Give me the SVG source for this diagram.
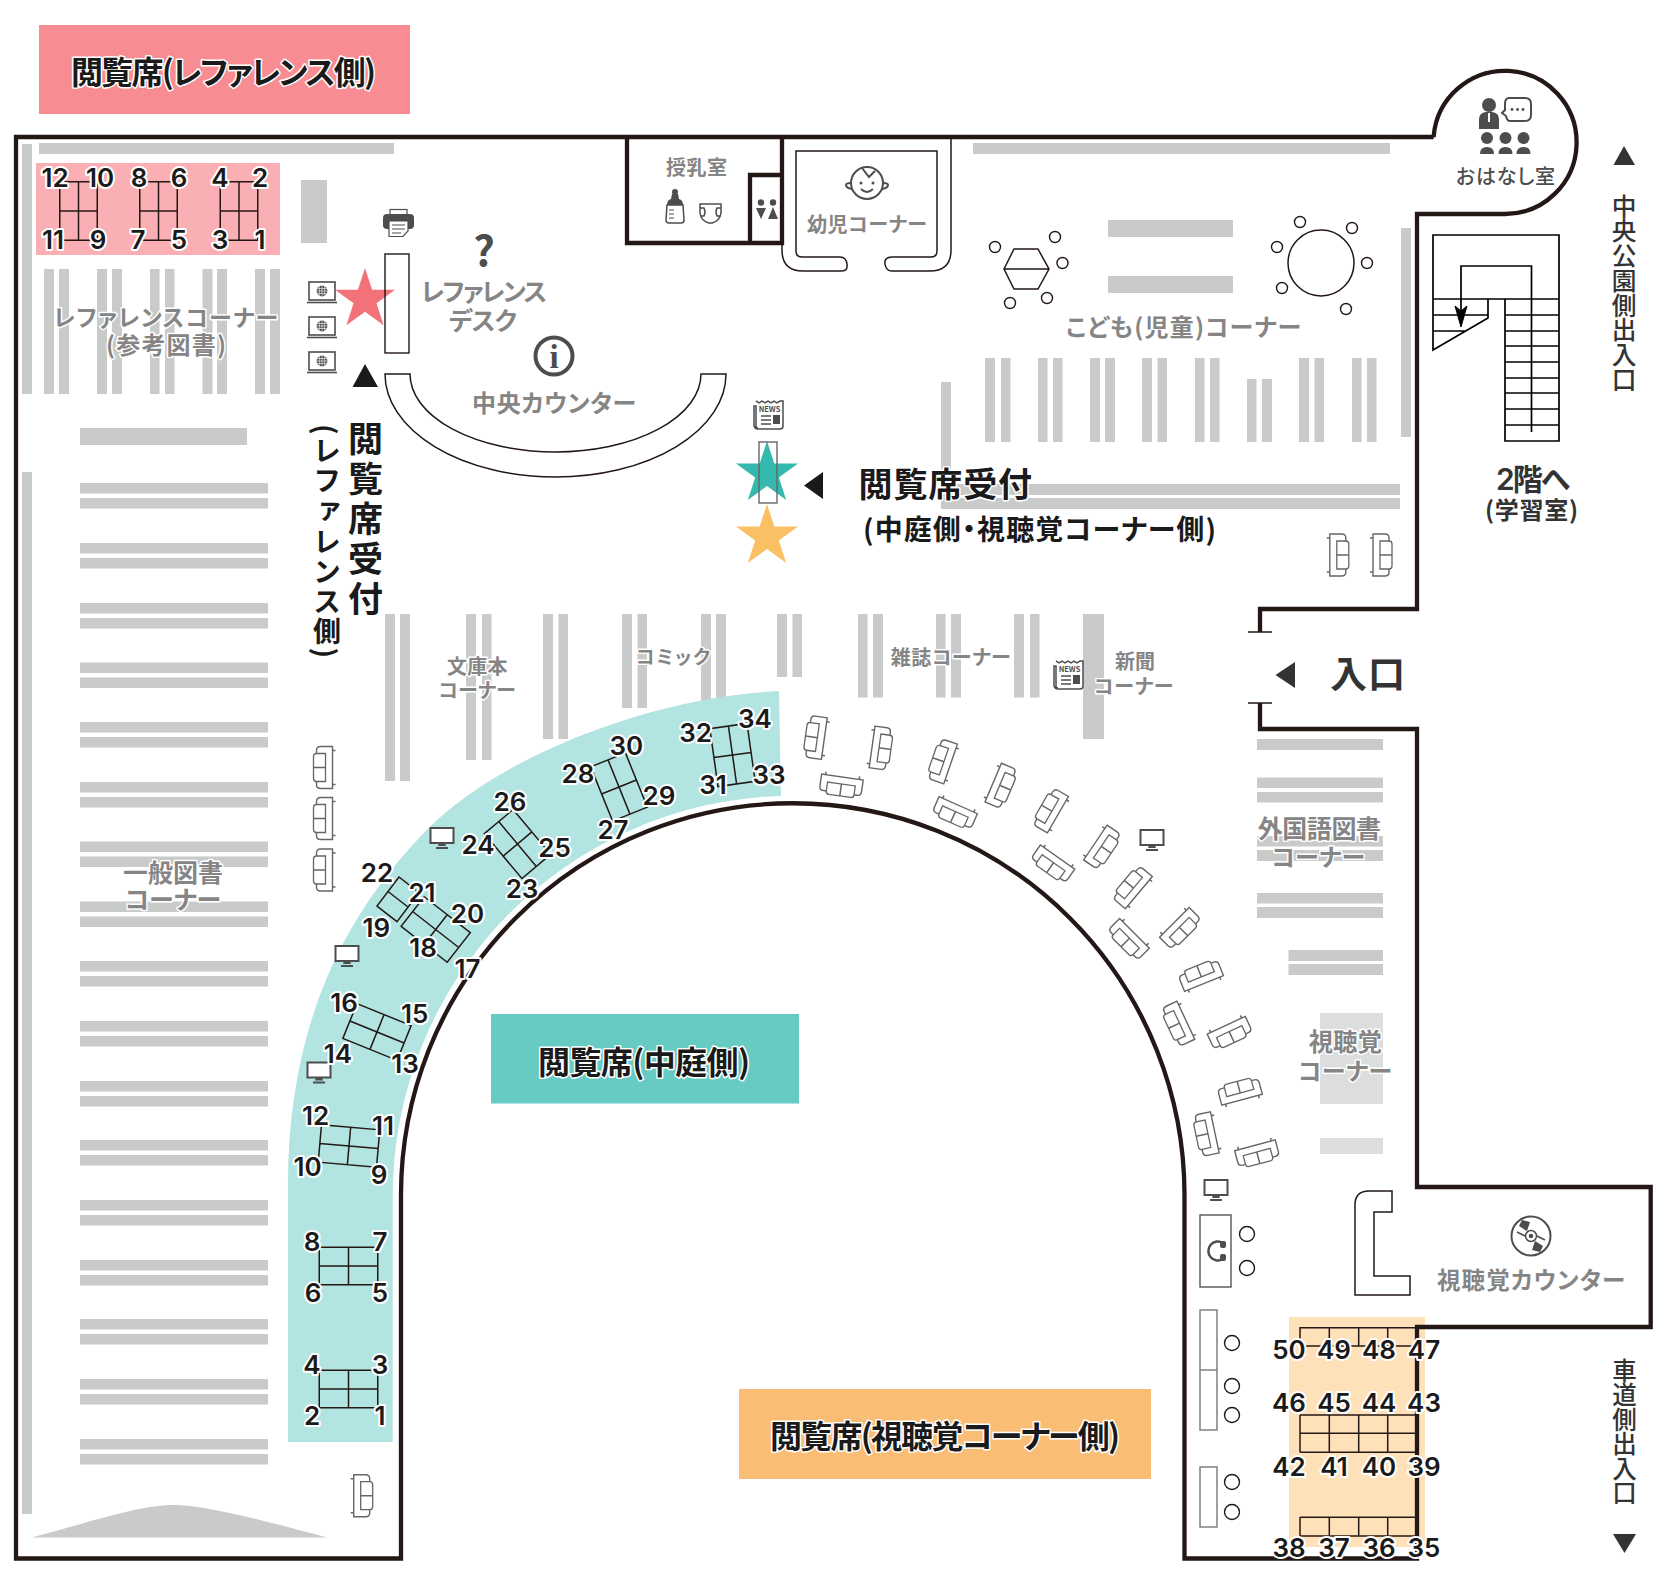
<svg xmlns="http://www.w3.org/2000/svg" width="1667" height="1584" viewBox="0 0 1667 1584">
<style>
text{font-family:"Noto Sans CJK JP","Noto Sans",sans-serif;font-feature-settings:"palt"}
.b{fill:#c9caca}.l{fill:#dcdddd}
.w{fill:none;stroke:#231815;stroke-width:4.3}
.f{fill:none;stroke:#231815;stroke-width:1.5}
.s{fill:none;stroke:#000;stroke-width:1.7}
.c{fill:#fff;stroke:#231815;stroke-width:1.4}
.g{fill:#858585;font-weight:700;stroke:#fff;stroke-width:3;paint-order:stroke;stroke-linejoin:round}
.n{fill:#1a1a1a;font-family:Inter,"Noto Sans",sans-serif;font-size:26px;font-weight:600;text-anchor:middle;stroke:#fff;stroke-width:4;paint-order:stroke;stroke-linejoin:round;font-feature-settings:normal}
.h{fill:#1a1a1a;font-weight:700;stroke:#fff;stroke-width:3;paint-order:stroke;stroke-linejoin:round}
.d{fill:#4d4d4d}
.i{fill:none;stroke:#4d4d4d;stroke-width:1.5}
.v{writing-mode:vertical-rl;fill:#333;font-weight:500}
</style>
<defs>
<g id="bp"><rect class="b" x="80" y="0" width="188" height="10.5"/><rect class="b" x="80" y="15" width="188" height="10.5"/></g>
<g id="t"><path class="f" d="M-29.25,-18.75H29.25V18.75H-29.25ZM0,-18.75V18.75M-29.25,0H29.25"/></g>
<g id="sofa">
<path class="i" d="M-8,-21H4Q8,-21 8,-17V17Q8,21 4,21H-8Z" style="stroke:#666;stroke-width:1.4"/>
<path d="M-1,-14H8Q11,-14 11,-11V11Q11,14 8,14H-1Z" fill="#fff" stroke="#666" stroke-width="1.3"/>
<path d="M-1,0H11M-11,-17H-8M-11,17H-8" fill="none" stroke="#666" stroke-width="1.5"/>
</g>
<g id="mon"><rect x="-11.5" y="-10" width="23" height="15" fill="#fff" stroke="#4d4d4d" stroke-width="2"/><path class="d" d="M-3,5H3L4,8H-4ZM-6,9H6V11H-6Z"/></g>
<g id="lap"><rect x="-13" y="-10.5" width="26" height="18" fill="#fff" stroke="#4d4d4d" stroke-width="1.6"/><circle cy="-1.5" r="5.4" class="d"/><path d="M-5.400,-1.500H5.400M0,-6.900V3.900M-2.700,-6.500V3.500M2.700,-6.500V3.500M-4.800,-4H4.800M-4.800,1H4.800" stroke="#fff" stroke-width=".6"/><path d="M-15,10H15" stroke="#4d4d4d" stroke-width="1.6"/></g>
<g id="news"><path d="M3,1L6,2.8 9,1 12,2.8 15,1 18,2.8 21,1 24,2.8 27,1 30,1V26Q30,29 27,29H5Q2,29 1,26V6H3V26Q3,28 5,28" fill="#fff" stroke="#4d4d4d" stroke-width="1.5"/><text x="16.5" y="12" font-size="7.5" font-weight="700" fill="#4d4d4d" text-anchor="middle">NEWS</text><path d="M8,16H18M8,20H18M8,24H18" stroke="#4d4d4d" stroke-width="1.3"/><rect class="d" x="20" y="15" width="7" height="9"/></g>
<polygon id="star" points="0,-32.6 7.32,-10.07 31,-10.07 11.84,3.85 19.16,26.37 0,12.45 -19.16,26.37 -11.84,3.85 -31,-10.07 -7.32,-10.07"/>
</defs>
<rect width="1667" height="1584" fill="#fff"/>

<g id="shelves">
<rect class="b" x="22" y="144" width="10" height="250"/><rect class="b" x="22" y="472" width="10" height="1042"/>
<rect class="b" x="39" y="143" width="355" height="11"/>
<rect class="b" x="301" y="180" width="26" height="63"/>
<rect class="b" x="44" y="269" width="10" height="125"/><rect class="b" x="59" y="269" width="10" height="125"/><rect class="b" x="97" y="269" width="10" height="125"/><rect class="b" x="112" y="269" width="10" height="125"/><rect class="b" x="150" y="269" width="9.5" height="125"/><rect class="b" x="165" y="269" width="9.5" height="125"/><rect class="b" x="202.5" y="269" width="10" height="125"/><rect class="b" x="217" y="269" width="10" height="125"/><rect class="b" x="255" y="269" width="10" height="125"/><rect class="b" x="270" y="269" width="10" height="125"/>
<rect class="b" x="80" y="428" width="167" height="17"/>
<use href="#bp" y="483"/><use href="#bp" y="543"/><use href="#bp" y="603"/><use href="#bp" y="662.5"/><use href="#bp" y="722"/><use href="#bp" y="782"/><use href="#bp" y="841.5"/><use href="#bp" y="901.5"/><use href="#bp" y="961"/><use href="#bp" y="1021"/><use href="#bp" y="1081"/><use href="#bp" y="1140"/><use href="#bp" y="1200"/><use href="#bp" y="1260"/><use href="#bp" y="1319"/><use href="#bp" y="1379"/><use href="#bp" y="1439"/>
<path class="b" d="M32,1537.5C90,1522 140,1505 173,1505C206,1505 270,1522 327,1537.5Z"/>
<rect class="b" x="973" y="143" width="417" height="11"/>
<rect class="b" x="1108" y="220" width="125" height="17"/><rect class="b" x="1108" y="276" width="125" height="17"/>
<rect class="b" x="1401" y="228" width="10" height="209"/>
<rect class="b" x="985" y="358" width="10" height="84"/><rect class="b" x="1001" y="358" width="9.5" height="84"/><rect class="b" x="1038" y="358" width="9.5" height="84"/><rect class="b" x="1053" y="358" width="9.5" height="84"/><rect class="b" x="1090" y="358" width="10" height="84"/><rect class="b" x="1105" y="358" width="10" height="84"/><rect class="b" x="1142" y="358" width="10" height="84"/><rect class="b" x="1157.5" y="358" width="9.5" height="84"/><rect class="b" x="1195" y="358" width="9.5" height="84"/><rect class="b" x="1210" y="358" width="9.5" height="84"/><rect class="b" x="1247" y="379" width="9.5" height="63"/><rect class="b" x="1262" y="379" width="10" height="63"/><rect class="b" x="1299" y="358" width="10" height="84"/><rect class="b" x="1314.5" y="358" width="9.5" height="84"/><rect class="b" x="1352" y="358" width="9.5" height="84"/><rect class="b" x="1367" y="358" width="9.5" height="84"/>
<rect class="b" x="941" y="382" width="10" height="127"/>
<rect class="b" x="951" y="484" width="449" height="11"/><rect class="b" x="941" y="498" width="459" height="11"/>
<rect class="b" x="385" y="614" width="10" height="167"/><rect class="b" x="400" y="614" width="10" height="167"/>
<rect class="b" x="466" y="614" width="10" height="146"/><rect class="b" x="482" y="614" width="9.5" height="146"/>
<rect class="b" x="543" y="614" width="10" height="125"/><rect class="b" x="558.5" y="614" width="9.5" height="125"/>
<rect class="b" x="622" y="614" width="10" height="94"/><rect class="b" x="637.5" y="614" width="9.5" height="94"/>
<rect class="b" x="701" y="614" width="10" height="90"/><rect class="b" x="716" y="614" width="10" height="90"/>
<rect class="b" x="777" y="614" width="10" height="63"/><rect class="b" x="792.5" y="614" width="9.5" height="63"/>
<rect class="b" x="858" y="614" width="9.5" height="83.5"/><rect class="b" x="873" y="614" width="10" height="83.5"/>
<rect class="b" x="936" y="614" width="9.5" height="83.5"/><rect class="b" x="951" y="614" width="10" height="83.5"/>
<rect class="b" x="1014" y="614" width="10" height="83.5"/><rect class="b" x="1030" y="614" width="9.5" height="83.5"/>
<rect class="b" x="1083" y="614" width="21" height="125"/>
<rect class="b" x="1257" y="739" width="126" height="11"/><rect class="b" x="1257" y="777.5" width="126" height="10.5"/><rect class="b" x="1257" y="792" width="126" height="10.5"/><rect class="b" x="1257" y="836" width="126" height="10.5"/><rect class="b" x="1257" y="850" width="126" height="11"/><rect class="b" x="1257" y="893" width="126" height="10.5"/><rect class="b" x="1257" y="907" width="126" height="11"/>
<rect class="b" x="1288.5" y="950" width="94.5" height="11"/><rect class="b" x="1288.5" y="964" width="94.5" height="11"/>
<rect class="l" x="1320" y="1013" width="63" height="91"/><rect class="l" x="1320" y="1138" width="63" height="16"/>
</g>

<g id="seat-zones">
<rect x="36" y="163" width="244" height="92" fill="#f9afb3"/>
<path d="M288,1442V1195C286,1050 329,928 429,827.7C499,757.7 649,697 779,691L781,796A400,400 0 0 0 392.7,1195V1442Z" fill="#b2e4e1"/>
<rect x="1289" y="1317" width="136" height="230" fill="#fee0b9"/>
</g>

<g id="walls">
<path class="w" d="M1433.6,137H16V1558.5H401V1195A391.75,391.75 0 0 1 1184.5,1195V1558.5H1417V1327H1650.7V1187H1417V729H1260V703M1260,632V609H1417V214H1505A71.6,71.6 0 1 0 1433.6,137"/>
<path d="M1248,703H1272M1248,632H1272" stroke="#231815" stroke-width="1.6" fill="none"/>
<path class="w" d="M627,137V243H782V137M750,243V175H782"/>
</g>

<g id="furniture">
<path class="f" d="M782,243V250Q782,271 803,271H842Q848,271 847,264Q846,257 840,257H802Q796,257 796,251V151H937V251Q937,257 931,257H892Q884,257 885,264Q886,271 892,271H930Q951,271 951,250V137"/>
<path class="f" d="M385,374A170.5,103 0 0 0 726,374H701A145.5,78 0 0 1 410,374Z"/>
<path class="f" d="M1392,1191H1369Q1355,1191 1355,1205V1295H1410V1276H1374V1212H1392Z" fill="#fff"/>
<path class="f" d="M1014,249H1038L1049,269L1038,289H1014L1004,269ZM1004,269H1049"/>
<circle class="c" cx="995" cy="247" r="5.5"/><circle class="c" cx="1055" cy="237" r="5.5"/><circle class="c" cx="1062.5" cy="263" r="5.5"/><circle class="c" cx="1047" cy="298" r="5.5"/><circle class="c" cx="1010" cy="303" r="5.5"/>
<circle class="f" cx="1321" cy="263" r="33"/>
<circle class="c" cx="1300" cy="222" r="5.5"/><circle class="c" cx="1352" cy="228" r="5.5"/><circle class="c" cx="1367" cy="263" r="5.5"/><circle class="c" cx="1346" cy="309" r="5.5"/><circle class="c" cx="1282" cy="288" r="5.5"/><circle class="c" cx="1277" cy="247" r="5.5"/>
<rect x="1200" y="1215" width="31" height="72" fill="#fff" stroke="#555" stroke-width="1.4"/>
<rect x="1200" y="1310" width="17" height="120" fill="#fff" stroke="#777" stroke-width="1.4"/><path d="M1200,1370H1217" stroke="#777" stroke-width="1.4"/>
<rect x="1200" y="1467" width="17" height="60" fill="#fff" stroke="#777" stroke-width="1.4"/>
<circle class="c" cx="1247" cy="1234" r="7.5"/><circle class="c" cx="1247" cy="1268" r="7.5"/><circle class="c" cx="1232" cy="1343" r="7.5"/><circle class="c" cx="1232" cy="1386" r="7.5"/><circle class="c" cx="1232" cy="1415" r="7.5"/><circle class="c" cx="1232" cy="1482" r="7.5"/><circle class="c" cx="1232" cy="1512" r="7.5"/>
</g>

<g id="stairs">
<path class="s" d="M1505,299V441H1559V235H1433V350L1488,318V299M1433,299H1559M1433,315H1488M1433,331H1466M1505,315H1559M1505,331H1559M1505,346H1559M1505,362H1559M1505,378H1559M1505,393H1559M1505,409H1559M1505,425H1559"/>
<path class="s" d="M1531.5,432V266H1461V320"/>
<path d="M1461,327L1455,306L1461,311L1467,306Z" fill="#000" stroke="#000"/>
</g>

<g id="sofas">
<use href="#sofa" transform="translate(324.5,767.5) rotate(180)"/><use href="#sofa" transform="translate(324.5,818.5) rotate(180)"/><use href="#sofa" transform="translate(324.5,870) rotate(180)"/>
<use href="#sofa" transform="translate(361.7,1495.7)"/>
<use href="#sofa" transform="translate(1337.8,555)"/><use href="#sofa" transform="translate(1381,555)"/>
<use href="#sofa" transform="translate(816.4,737.5) rotate(188)"/>
<use href="#sofa" transform="translate(880,748) rotate(8)"/>
<use href="#sofa" transform="translate(841.3,785) rotate(98)"/>
<use href="#sofa" transform="translate(943,761.4) rotate(199)"/>
<use href="#sofa" transform="translate(1000.6,785.7) rotate(23)"/>
<use href="#sofa" transform="translate(955,812.5) rotate(114)"/>
<use href="#sofa" transform="translate(1051,810.7) rotate(210)"/>
<use href="#sofa" transform="translate(1102,847) rotate(34)"/>
<use href="#sofa" transform="translate(1053,863.6) rotate(125)"/>
<use href="#sofa" transform="translate(1132.7,887.5) rotate(220)"/>
<use href="#sofa" transform="translate(1180,928) rotate(45)"/>
<use href="#sofa" transform="translate(1128.8,939) rotate(135)"/>
<use href="#sofa" transform="translate(1201,976) rotate(-112)"/>
<use href="#sofa" transform="translate(1178.6,1023.6) rotate(155)"/>
<use href="#sofa" transform="translate(1229.6,1032.5) rotate(65)"/>
<use href="#sofa" transform="translate(1240,1092) rotate(-105)"/>
<use href="#sofa" transform="translate(1207,1134) rotate(168)"/>
<use href="#sofa" transform="translate(1257,1153) rotate(75)"/>
</g>

<g id="tables">
<use href="#t" transform="translate(78.5,211) rotate(90)"/><use href="#t" transform="translate(158.5,211) rotate(90)"/><use href="#t" transform="translate(239,211) rotate(90)"/>
<use href="#t" transform="translate(348.5,1389)"/><use href="#t" transform="translate(348.5,1266)"/>
<use href="#t" transform="translate(349,1146) rotate(5)"/>
<use href="#t" transform="translate(377,1032) rotate(22)"/>
<use href="#t" transform="translate(435.7,929.5) rotate(38)"/>
<path class="f" d="M399,877L377,906L397,921.7L419,892.7ZM388,891.5L408,907"/>
<use href="#t" transform="translate(517.5,844) rotate(50)"/>
<use href="#t" transform="translate(619,787) rotate(68)"/>
<use href="#t" transform="translate(732.5,755) rotate(82)"/>
<path class="f" d="M1300,1346V1327.7H1417M1329.3,1327.7V1346M1358.7,1327.7V1346M1387.7,1327.7V1346M1300,1346H1417"/>
<path class="f" d="M1300,1415H1417M1300,1433.3H1417M1300,1452.3H1417M1300,1415V1452.3M1329.3,1415V1452.3M1358.7,1415V1452.3M1387.7,1415V1452.3"/>
<path class="f" d="M1300,1517.3H1417M1300,1536H1417M1300,1517.3V1536M1329.3,1517.3V1536M1358.7,1517.3V1536M1387.7,1517.3V1536"/>
</g>

<g id="icons">
<use href="#lap" transform="translate(322,292.500)"/><use href="#lap" transform="translate(322,327.500)"/><use href="#lap" transform="translate(322,362.500)"/>
<use href="#mon" x="442" y="838"/><use href="#mon" x="347" y="956"/><use href="#mon" x="319" y="1072.5"/><use href="#mon" x="1152" y="840"/><use href="#mon" x="1216" y="1190"/>
<use href="#news" x="753" y="400"/><use href="#news" x="1053" y="660"/>
<g id="printer"><rect x="390" y="209.5" width="17" height="6" fill="#fff" stroke="#4d4d4d" stroke-width="1.2"/><rect class="d" x="383" y="214" width="31" height="15" rx="4"/><path d="M389,221H408V231L403,236.5H389Z" fill="#fff" stroke="#4d4d4d" stroke-width="1.2"/><path d="M392,225H405M392,229H405M392,233H401" stroke="#4d4d4d"/></g>
<g id="info"><circle cx="554" cy="356" r="18.5" fill="none" stroke="#4d4d4d" stroke-width="4"/><text x="554" y="368" font-size="33" font-weight="700" fill="#4d4d4d" text-anchor="middle" style="font-family:'Liberation Serif',serif">i</text></g>
<text x="484" y="266" font-size="42" font-weight="700" fill="#4d4d4d" text-anchor="middle">?</text>
<g id="bottle"><circle class="d" cx="675" cy="192" r="3"/><path class="d" d="M672,194H678L679,199Q683,200 683,205H667Q667,200 671,199Z"/><path d="M667,205H683L684,220Q684,223 681,223H669Q666,223 666,220Z" fill="#fff" stroke="#4d4d4d" stroke-width="1.5"/><path d="M669,210H674M669,214H674M669,218H674" stroke="#4d4d4d"/></g>
<g id="diaper"><path class="i" d="M700,204H721V213Q720,221 712,223H709Q701,221 700,213ZM700,208H704Q706,212 704,216H701M721,208H717Q715,212 717,216H720"/></g>
<g id="toilet"><circle class="d" cx="761" cy="202.500" r="3.200"/><circle class="d" cx="773" cy="202.500" r="3.200"/><path class="d" d="M756,208H766L761,219ZM773,207L778,219H768Z"/></g>
<g id="baby"><circle cx="867" cy="183" r="16" fill="none" stroke="#4d4d4d" stroke-width="2"/><path d="M851,183Q846,183 846,185Q846,188 852,189M883,183Q888,183 888,185Q888,188 882,189M862,168L869,177L875,171" fill="none" stroke="#4d4d4d" stroke-width="2"/><circle class="d" cx="861" cy="183" r="1.500"/><circle class="d" cx="873" cy="183" r="1.500"/><path d="M861,189Q867,195 873,189" fill="none" stroke="#4d4d4d" stroke-width="1.800"/></g>
<g id="story"><circle class="d" cx="1489" cy="105" r="7"/><path class="d" d="M1479,129V119Q1479,113 1486,112H1492Q1499,113 1499,119V129Z"/><path d="M1489,113V122" stroke="#fff" stroke-width="2"/><path d="M1509,98H1525Q1531,98 1531,104V115Q1531,121 1525,121H1510Q1507,121 1506,116L1502,113L1505,110V104Q1505,98 1509,98Z" fill="none" stroke="#4d4d4d" stroke-width="2"/><circle class="d" cx="1512" cy="109.500" r="1.400"/><circle class="d" cx="1517.500" cy="109.500" r="1.400"/><circle class="d" cx="1523" cy="109.500" r="1.400"/><circle class="d" cx="1487" cy="138" r="6"/><circle class="d" cx="1505.500" cy="138" r="6"/><circle class="d" cx="1523.500" cy="138" r="6"/><path class="d" d="M1480,154Q1480,147 1487,147Q1494,147 1494,154ZM1498.500,154Q1498.500,147 1505.500,147Q1512.500,147 1512.500,154ZM1516.500,154Q1516.500,147 1523.500,147Q1530.500,147 1530.500,154Z"/></g>
<g id="phones"><path d="M1223,1243A9.500,9.500 0 1 0 1223,1259" fill="none" stroke="#4d4d4d" stroke-width="2.500"/><rect class="d" x="1220" y="1241" width="6" height="7" rx="2"/><rect class="d" x="1220" y="1254" width="6" height="7" rx="2"/></g>
<g id="cd"><circle cx="1531" cy="1236" r="19.500" fill="none" stroke="#4d4d4d" stroke-width="2"/><circle cx="1531" cy="1236" r="5.500" fill="none" stroke="#4d4d4d" stroke-width="1.500"/><circle class="d" cx="1531" cy="1236" r="2.300"/><path class="d" d="M1527,1231L1519,1226L1522,1220L1530,1222ZM1535,1241L1543,1246L1540,1252L1532,1250Z"/><path d="M1517,1232L1525,1236M1545,1240L1537,1236" stroke="#4d4d4d" stroke-width="1.500"/></g>
</g>

<g id="stars">
<use href="#star" transform="translate(365,299.600) scale(.97)" fill="#f26a72" opacity=".95"/>
<use href="#star" transform="translate(767,473.600)" fill="#35b8ad"/>
<use href="#star" transform="translate(767,536.600)" fill="#fcc064"/>
<rect x="759" y="442" width="18" height="61" fill="none" stroke="#666" stroke-width="1.400"/>
<rect x="385" y="254" width="24" height="99" fill="none" stroke="#231815" stroke-width="1.400"/>
</g>

<g id="arrows" fill="#1a1a1a">
<path d="M352.500,387L365,364L378,387Z"/>
<path d="M823,472V499L804,485.500Z"/>
<path d="M1295,662V688L1275.500,675Z" fill="#333"/>
<path d="M1613.500,165L1624,146L1635,165Z" fill="#333"/>
<path d="M1613,1534H1636L1624.500,1553Z" fill="#333"/>
</g>

<g id="banners">
<rect x="39" y="25" width="371" height="89" fill="#f78d92"/>
<rect x="491" y="1014" width="308" height="89.500" fill="#67cbc3"/>
<rect x="739" y="1389" width="412" height="90" fill="#fabd76"/>
</g>

<g id="labels">
<text class="h" x="71" y="84" font-size="32" textLength="305">閲覧席(レファレンス側)</text>
<text class="h" x="538" y="1074" font-size="32" textLength="212">閲覧席(中庭側)</text>
<text class="h" x="770" y="1448" font-size="32" textLength="350">閲覧席(視聴覚コーナー側)</text>
<text class="h" x="858.500" y="497" font-size="34" textLength="173.500">閲覧席受付</text>
<text class="h" x="863" y="540" font-size="28" textLength="353">(中庭側・視聴覚コーナー側)</text>
<text class="v" x="365.500" y="421" font-size="35" style="letter-spacing:5px;fill:#1a1a1a;font-weight:700">閲覧席受付</text>
<text class="v" x="327" y="424" font-size="28" textLength="234" style="fill:#1a1a1a;font-weight:700">(レファレンス側)</text>
<text class="v" x="1624" y="194" font-size="24.700">中央公園側出入口</text>
<text class="v" x="1624.500" y="1358" font-size="24.500">車道側出入口</text>
<text class="h" x="1330" y="688" font-size="37" textLength="75" style="fill:#333">入口</text>
<text x="1496" y="490" font-size="30" font-weight="700" fill="#333" textLength="74"><tspan style="font-family:Inter,sans-serif;font-weight:600">2</tspan>階へ</text>
<text x="1485" y="519" font-size="24" font-weight="700" fill="#333" textLength="93">(学習室)</text>
<text class="g" x="53.600" y="326" font-size="23" textLength="224.400">レファレンスコーナー</text>
<text class="g" x="106" y="354" font-size="24" textLength="120">(参考図書)</text>
<text class="g" x="123" y="882" font-size="25" textLength="100">一般図書</text>
<text class="g" x="125" y="909" font-size="25" textLength="96">コーナー</text>
<text class="g" x="421" y="301" font-size="25" textLength="126">レファレンス</text>
<text class="g" x="449" y="330" font-size="25" textLength="68">デスク</text>
<text class="g" x="472" y="412" font-size="24" textLength="164">中央カウンター</text>
<text class="g" x="666" y="175" font-size="20" textLength="61">授乳室</text>
<text class="g" x="807" y="232" font-size="20" textLength="120">幼児コーナー</text>
<text class="g" x="1066" y="336" font-size="24" textLength="235">こども(児童)コーナー</text>
<text x="1456" y="184" font-size="20" fill="#4d4d4d" font-weight="500" textLength="99">おはなし室</text>
<text class="g" x="447" y="674" font-size="20" textLength="60.500">文庫本</text>
<text class="g" x="438.600" y="698" font-size="20" textLength="77">コーナー</text>
<text class="g" x="636" y="664" font-size="19" textLength="74">コミック</text>
<text class="g" x="890.700" y="665" font-size="20" textLength="120">雑誌コーナー</text>
<text class="g" x="1115" y="669" font-size="20" textLength="40">新聞</text>
<text class="g" x="1094" y="694" font-size="20" textLength="79.500">コーナー</text>
<text class="g" x="1257.700" y="838" font-size="25" textLength="123.300">外国語図書</text>
<text class="g" x="1271.500" y="866" font-size="24" textLength="93.500">コーナー</text>
<text class="g" x="1308.700" y="1051" font-size="24.500" textLength="73.300">視聴覚</text>
<text class="g" x="1298" y="1080" font-size="24" textLength="94">コーナー</text>
<text class="g" x="1437" y="1289" font-size="23.500" textLength="188">視聴覚カウンター</text>
</g>

<g id="numbers">
<text class="n" x="55" y="187">12</text><text class="n" x="100" y="187">10</text><text class="n" x="139" y="187">8</text><text class="n" x="179" y="187">6</text><text class="n" x="220" y="187">4</text><text class="n" x="260" y="187">2</text>
<text class="n" x="53" y="249">11</text><text class="n" x="98" y="249">9</text><text class="n" x="138" y="249">7</text><text class="n" x="179" y="249">5</text><text class="n" x="220" y="249">3</text><text class="n" x="260" y="249">1</text>
<text class="n" x="380" y="1425">1</text><text class="n" x="312" y="1425">2</text><text class="n" x="380" y="1374">3</text><text class="n" x="312" y="1374">4</text><text class="n" x="380" y="1301.600">5</text><text class="n" x="313" y="1301.600">6</text><text class="n" x="380" y="1251">7</text><text class="n" x="312" y="1251">8</text><text class="n" x="379" y="1184">9</text><text class="n" x="307.700" y="1175.700">10</text><text class="n" x="383" y="1134.800">11</text><text class="n" x="315.700" y="1124.700">12</text>
<text class="n" x="405" y="1073">13</text><text class="n" x="338" y="1063">14</text><text class="n" x="414.600" y="1022.700">15</text><text class="n" x="344" y="1012">16</text><text class="n" x="467.500" y="978">17</text><text class="n" x="423" y="957">18</text><text class="n" x="376.400" y="936.700">19</text><text class="n" x="467.500" y="923">20</text><text class="n" x="422" y="902">21</text><text class="n" x="377" y="881.700">22</text>
<text class="n" x="522" y="897.700">23</text><text class="n" x="478" y="854">24</text><text class="n" x="554.600" y="857">25</text><text class="n" x="510" y="811">26</text><text class="n" x="613" y="839">27</text><text class="n" x="578" y="782.700">28</text><text class="n" x="659" y="805">29</text><text class="n" x="626.400" y="755">30</text><text class="n" x="713" y="794">31</text><text class="n" x="695.700" y="742">32</text><text class="n" x="769" y="784">33</text><text class="n" x="755" y="727.700">34</text>
<text class="n" x="1424" y="1557">35</text><text class="n" x="1379" y="1557">36</text><text class="n" x="1334" y="1557">37</text><text class="n" x="1289" y="1557">38</text>
<text class="n" x="1424" y="1476">39</text><text class="n" x="1379" y="1476">40</text><text class="n" x="1334" y="1476">41</text><text class="n" x="1289" y="1476">42</text>
<text class="n" x="1424" y="1412">43</text><text class="n" x="1379" y="1412">44</text><text class="n" x="1334" y="1412">45</text><text class="n" x="1289" y="1412">46</text>
<text class="n" x="1424" y="1359">47</text><text class="n" x="1379" y="1359">48</text><text class="n" x="1334" y="1359">49</text><text class="n" x="1289" y="1359">50</text>
</g>
</svg>
